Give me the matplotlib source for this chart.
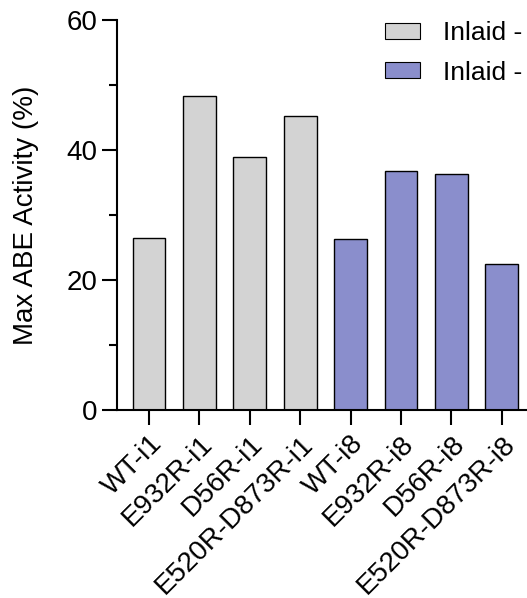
import matplotlib
matplotlib.use("Agg")
import matplotlib.pyplot as plt
from matplotlib.patches import Patch
from matplotlib.ticker import MultipleLocator

plt.rcParams['font.family'] = ['Liberation Sans', 'DejaVu Sans']

# max ABE activity per construct, inlaid at i1 and i8
labels_i1 = ["WT-i1", "E932R-i1", "D56R-i1", "E520R-D873R-i1"]
labels_i8 = ["WT-i8", "E932R-i8", "D56R-i8", "E520R-D873R-i8"]
values_i1 = [26.5, 48.3, 38.9, 45.2]
values_i8 = [26.3, 36.8, 36.3, 22.5]
legend_labels = ["Inlaid -", "Inlaid -"]

gray = "#d3d3d3"
purple = "#8a8ecc"

fig = plt.figure(figsize=(5.27, 5.98), dpi=100)
ax = fig.add_axes([0.222, 0.3144, 0.80, 0.6522])

labels = labels_i1 + labels_i8
values = values_i1 + values_i8
colors = [gray] * len(values_i1) + [purple] * len(values_i8)
xs = list(range(len(labels)))

ax.bar(xs, values, width=0.65, color=colors, edgecolor="black", linewidth=1.0)

ax.set_xlim(-0.633, 7.73)
ax.set_ylim(0, 60)
ax.yaxis.set_major_locator(MultipleLocator(20))
ax.yaxis.set_minor_locator(MultipleLocator(10))

ax.set_xticks(xs)
ax.set_xticklabels(labels, rotation=45, ha="right", rotation_mode="anchor", fontsize=20)
ax.tick_params(axis="x", length=11, width=1.5, pad=4)
ax.tick_params(axis="y", which="major", length=11, width=1.5, labelsize=20, pad=3)
ax.tick_params(axis="y", which="minor", length=6, width=1.5)

for side in ("top", "right"):
    ax.spines[side].set_visible(False)
for side in ("left", "bottom"):
    ax.spines[side].set_linewidth(1.5)

ax.set_ylabel("Max ABE Activity (%)", fontsize=20, labelpad=20)

handles = [Patch(facecolor=gray, edgecolor="black", linewidth=0.8),
           Patch(facecolor=purple, edgecolor="black", linewidth=0.8)]
leg = fig.legend(handles, legend_labels, loc="upper left", bbox_to_anchor=(0.7306, 0.965),
                 frameon=False, fontsize=19, handlelength=1.33, handleheight=0.55,
                 handletextpad=0.87, labelspacing=0.6, borderaxespad=0, borderpad=0)

fig.savefig("out.png", dpi=100)
